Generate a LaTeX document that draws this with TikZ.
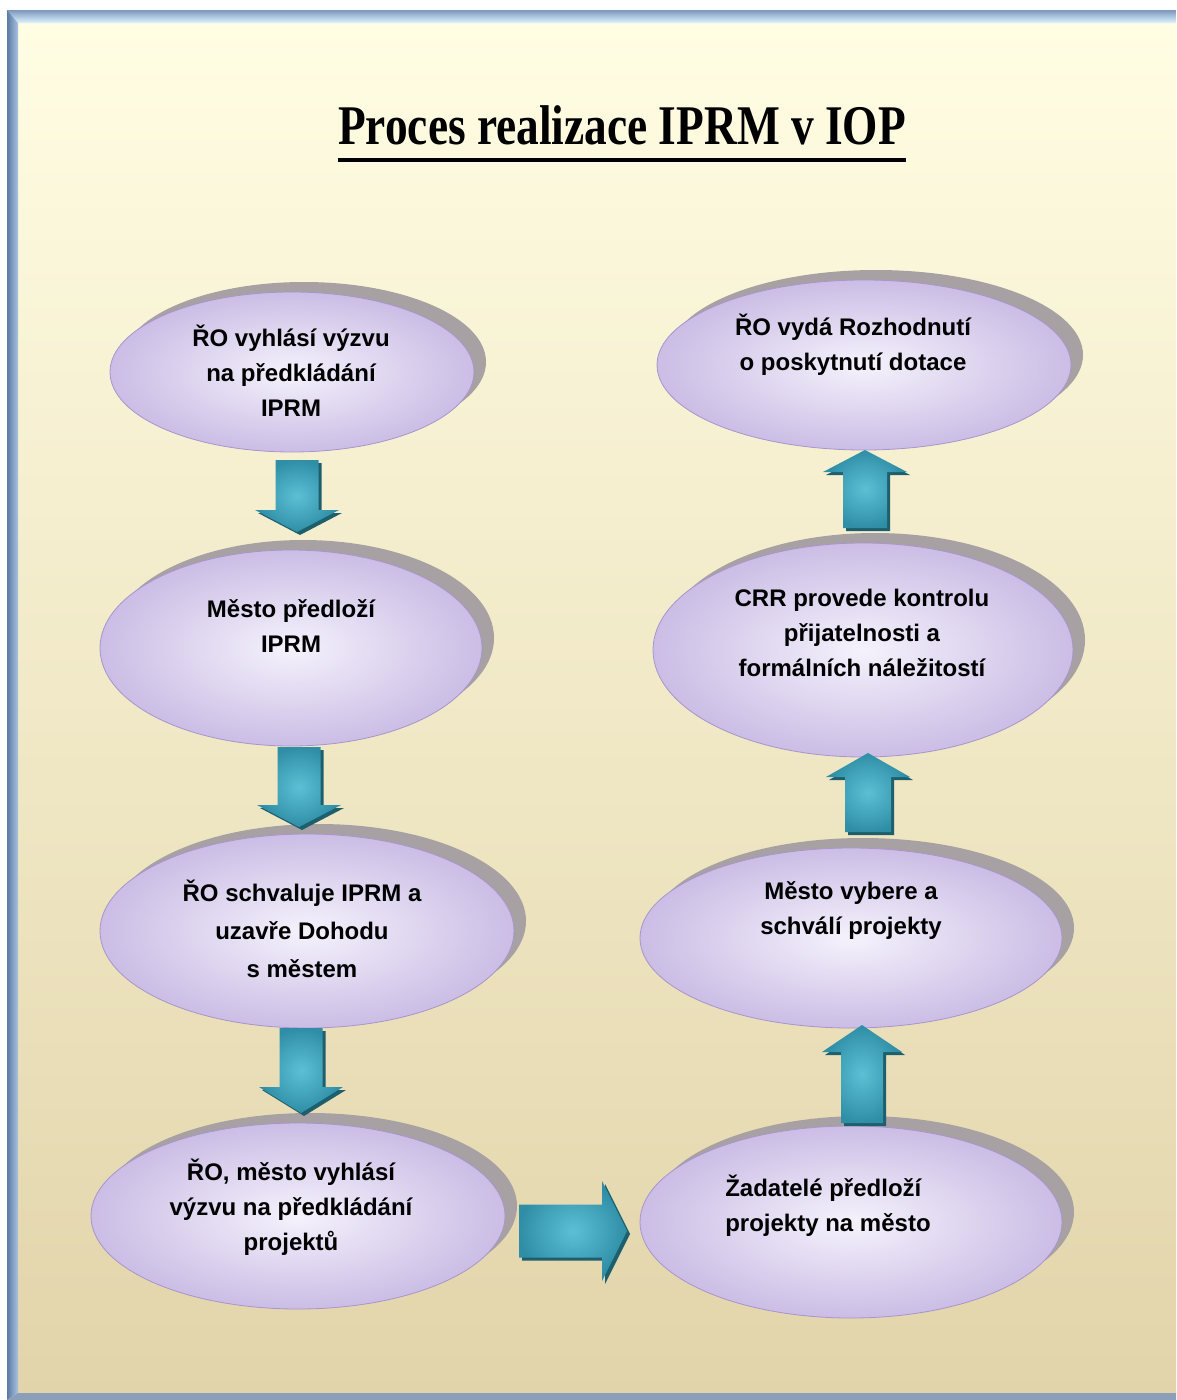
\documentclass[tikz,border=0pt]{standalone}
\usepackage{fontspec}
\newfontfamily\boxfont{Liberation Sans}
\newfontfamily\titlefont{Liberation Serif}
\usetikzlibrary{calc,shapes.geometric,shadows}
\definecolor{bgtop}{HTML}{FFFDE3}
\definecolor{bgbot}{HTML}{E2D4AA}
\definecolor{elin}{HTML}{F5F2FC}
\definecolor{elout}{HTML}{CBBDE5}
\definecolor{eline}{HTML}{A696CC}
\definecolor{shad}{HTML}{A7A1A3}
\definecolor{tealin}{HTML}{5CC0D4}
\definecolor{tealout}{HTML}{2F8EA6}
\definecolor{tealdark}{HTML}{1E5F6D}
\definecolor{bevtop}{HTML}{7D97BD}
\definecolor{bevtopl}{HTML}{DDF5FF}
\definecolor{bevleft}{HTML}{5B79A3}
\definecolor{bevleftl}{HTML}{A9C4E2}
\definecolor{bevbot}{HTML}{8BA0B8}
\tikzset{
  ell/.style={ellipse, draw=eline, line width=0.8pt, inner sep=0pt,
    inner color=elin, outer color=elout,
    drop shadow={shadow xshift=12pt, shadow yshift=10pt, fill=shad, opacity=1}},
  txt/.style={font=\boxfont\bfseries\fontsize{24}{35}\selectfont, align=center, inner sep=0pt, text=black},
  arrowbody/.style={inner color=tealin, outer color=tealout},
}
\newcommand{\arrowpath}[4]{($(#1)!#3!90:(#2)$) -- ($(#1-h)!#3!90:(#2)$) -- ($(#1-h)!#4!90:(#2)$) -- (#2) -- ($(#1-h)!#4!-90:(#2)$) -- ($(#1-h)!#3!-90:(#2)$) -- ($(#1)!#3!-90:(#2)$) -- cycle}
\newcommand{\blockarrow}[5]{%
  \coordinate (#1-h) at ($(#2)!#5!(#1)$);
  \begin{scope}[transform canvas={xshift=3pt,yshift=-3pt}]
    \fill[tealdark] \arrowpath{#1}{#2}{#3}{#4};
  \end{scope}
  \shade[arrowbody] \arrowpath{#1}{#2}{#3}{#4};
}
\begin{document}
\begin{tikzpicture}[x=1pt,y=-1pt]
\useasboundingbox (0,0) rectangle (1176,1400);
\fill[white] (0,0) rectangle (1176,1400);
% frame
\shade[top color=bgtop, bottom color=bgbot] (18,23) rectangle (1176,1393);
\shade[top color=bevtop, bottom color=bevtopl] (7,10) -- (1176,10) -- (1176,23) -- (18,23) -- cycle;
\shade[left color=bevleft, right color=bevleftl] (7,10) -- (18,23) -- (18,1393) -- (7,1400) -- cycle;
\fill[bevbot] (18,1393) -- (1176,1393) -- (1176,1400) -- (7,1400) -- cycle;

% title
\node[inner sep=0pt, anchor=base, font=\titlefont\bfseries] (title) at (622,144)
  {\scalebox{0.81}[1]{\fontsize{56}{60}\selectfont Proces realizace IPRM v IOP}};
\draw[line width=4pt] ($(title.base west)+(0,16)$) -- ($(title.base east)+(0,16)$);

% ellipses, left column
\node[ell, minimum width=364pt, minimum height=160pt] (e1) at (292,372) {};
\node[ell, minimum width=382pt, minimum height=196pt] (e2) at (291,648) {};
\node[ell, minimum width=414pt, minimum height=194pt] (e3) at (307,931) {};
\node[ell, minimum width=414pt, minimum height=186pt] (e4) at (298,1216) {};
% ellipses, right column
\node[ell, minimum width=414pt, minimum height=170pt] (r1) at (864,365) {};
\node[ell, minimum width=420pt, minimum height=214pt] (r2) at (863,650) {};
\node[ell, minimum width=422pt, minimum height=180pt] (r3) at (851,938) {};
\node[ell, minimum width=422pt, minimum height=192pt] (r4) at (851,1222) {};

% texts
\node[txt] (t1) at (291,371) {ŘO vyhlásí výzvu\\na předkládání\\IPRM};
\node[txt] (t2) at (291,626) {Město předloží\\IPRM};
\node[txt, font=\boxfont\bfseries\fontsize{24}{38}\selectfont] (t3) at (302,929) {ŘO schvaluje IPRM a\\uzavře Dohodu\\s městem};
\node[txt] (t4) at (291,1207) {ŘO, město vyhlásí\\výzvu na předkládání\\projektů};
\node[txt] (u1) at (853,345) {ŘO vydá Rozhodnutí\\o poskytnutí dotace};
\node[txt] (u2) at (862,633) {CRR provede kontrolu\\přijatelnosti a\\formálních náležitostí};
\node[txt] (u3) at (851,911) {Město vybere a\\schválí projekty};
\node[txt, align=left] (u4) at (828,1206) {Žadatelé předloží\\projekty na město};

% arrow end points
\coordinate (a1s) at (297,460);  \coordinate (a1e) at (297,532);
\coordinate (a2s) at (299,747);  \coordinate (a2e) at (299,827);
\coordinate (a3s) at (301,1028); \coordinate (a3e) at (301,1113);
\coordinate (a4s) at (519,1231); \coordinate (a4e) at (627,1231);
\coordinate (a5s) at (862,1123); \coordinate (a5e) at (862,1025);
\coordinate (a6s) at (868,832);  \coordinate (a6e) at (868,753);
\coordinate (a7s) at (865,528);  \coordinate (a7e) at (865,450);

\blockarrow{a1s}{a1e}{21.5pt}{42pt}{22pt}
\blockarrow{a2s}{a2e}{21.5pt}{42pt}{22pt}
\blockarrow{a3s}{a3e}{21.5pt}{42pt}{26pt}
\blockarrow{a4s}{a4e}{26.5pt}{50pt}{25pt}
\blockarrow{a5s}{a5e}{21pt}{40pt}{27pt}
\blockarrow{a6s}{a6e}{23pt}{42pt}{24pt}
\blockarrow{a7s}{a7e}{22pt}{42pt}{22pt}
\end{tikzpicture}
\end{document}
